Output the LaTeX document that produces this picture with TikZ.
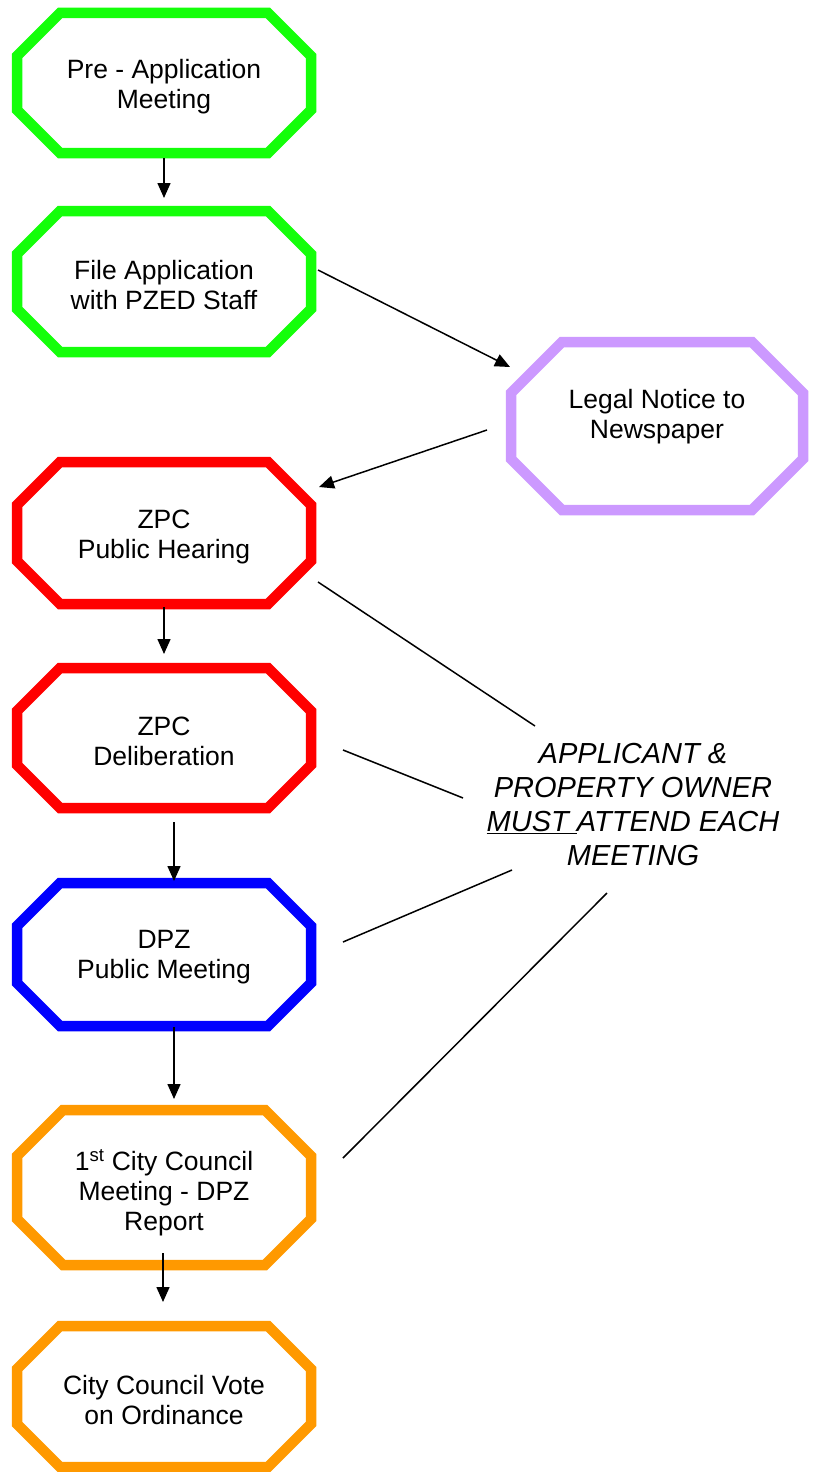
\documentclass[tikz,border=0pt]{standalone}
\usepackage{fontspec}
\setmainfont{Liberation Sans}
\usetikzlibrary{arrows.meta}
\definecolor{cgreen}{RGB}{20,255,10}
\definecolor{clav}{RGB}{204,153,255}
\definecolor{cred}{RGB}{255,0,0}
\definecolor{cblue}{RGB}{0,0,255}
\definecolor{corange}{RGB}{255,153,0}
\tikzset{
  octline/.style={line width=10.5pt, line join=miter},
  boxtext/.style={align=center, inner sep=0pt, font=\fontsize{26.5}{30}\selectfont},
  conn/.style={line width=1.5pt, -{Triangle[length=15pt,width=13pt]}},
  plainline/.style={line width=1.5pt},
}
% #1 name, #2 cx, #3 cy, #4 w, #5 h, #6 chamfer, #7 colour, #8 text shift, #9 text
\newcommand\octbox[9]{%
  \draw[octline,#7] ({#2-#4/2+#6},{#3-#5/2}) -- ({#2+#4/2-#6},{#3-#5/2})
    -- ({#2+#4/2},{#3-#5/2+#6}) -- ({#2+#4/2},{#3+#5/2-#6})
    -- ({#2+#4/2-#6},{#3+#5/2}) -- ({#2-#4/2+#6},{#3+#5/2})
    -- ({#2-#4/2},{#3+#5/2-#6}) -- ({#2-#4/2},{#3-#5/2+#6}) -- cycle;
  \node[boxtext] (#1) at (#2,{#3+#8+3}) {#9};%
}
\begin{document}
\begin{tikzpicture}[x=1pt,y=-1pt]
\useasboundingbox (0,0) rectangle (815,1472);

\octbox{pre}{164}{83}{294}{140}{43}{cgreen}{1}{Pre - Application\\Meeting}
\octbox{file}{164}{281.5}{294}{141}{43}{cgreen}{0.5}{File Application\\with PZED Staff}
\octbox{legal}{657}{426}{292}{168}{51}{clav}{-12}{Legal Notice to\\Newspaper}
\octbox{zpch}{164}{533}{294}{142}{43}{cred}{1}{ZPC\\Public Hearing}
\octbox{zpcd}{164}{738}{294}{140}{43}{cred}{0}{ZPC\\Deliberation}
\octbox{dpz}{164}{954.5}{294}{143}{43}{cblue}{0}{DPZ\\Public Meeting}
\octbox{cc}{164}{1187.5}{294}{155}{46}{corange}{2.5}{1\textsuperscript{st} City Council\\Meeting - DPZ\\Report}
\octbox{vote}{164}{1396.5}{294}{141}{43}{corange}{0.5}{City Council Vote\\on Ordinance}

\node[align=center, inner sep=0pt, font=\itshape\fontsize{29}{34}\selectfont] (note) at (633,805)
  {APPLICANT \&\\PROPERTY OWNER\\\underline{MUST\ }ATTEND EACH\\MEETING};

% connector end points
\coordinate (p1) at (164,158);   \coordinate (f1) at (164,198);
\coordinate (f2) at (318,270);   \coordinate (l1) at (510,367);
\coordinate (l2) at (487,430);   \coordinate (h1) at (319,487);
\coordinate (h2) at (164,607);   \coordinate (d1) at (164,654);
\coordinate (d2) at (174,822);   \coordinate (m1) at (174,881);
\coordinate (m2) at (174,1027);  \coordinate (c1) at (174,1099);
\coordinate (c2) at (163,1253);  \coordinate (v1) at (163,1302);

\coordinate (h3) at (318,582);   \coordinate (n1) at (535,726);
\coordinate (d3) at (343,750);   \coordinate (n2) at (463,798);
\coordinate (n3) at (512,870);   \coordinate (m3) at (343,942);
\coordinate (n4) at (607,893);   \coordinate (c3) at (343,1158);

\draw[conn] (p1) -- (f1);
\draw[conn] (f2) -- (l1);
\draw[conn] (l2) -- (h1);
\draw[conn] (h2) -- (d1);
\draw[conn] (d2) -- (m1);
\draw[conn] (m2) -- (c1);
\draw[conn] (c2) -- (v1);

\draw[plainline] (h3) -- (n1);
\draw[plainline] (d3) -- (n2);
\draw[plainline] (m3) -- (n3);
\draw[plainline] (c3) -- (n4);
\end{tikzpicture}
\end{document}
